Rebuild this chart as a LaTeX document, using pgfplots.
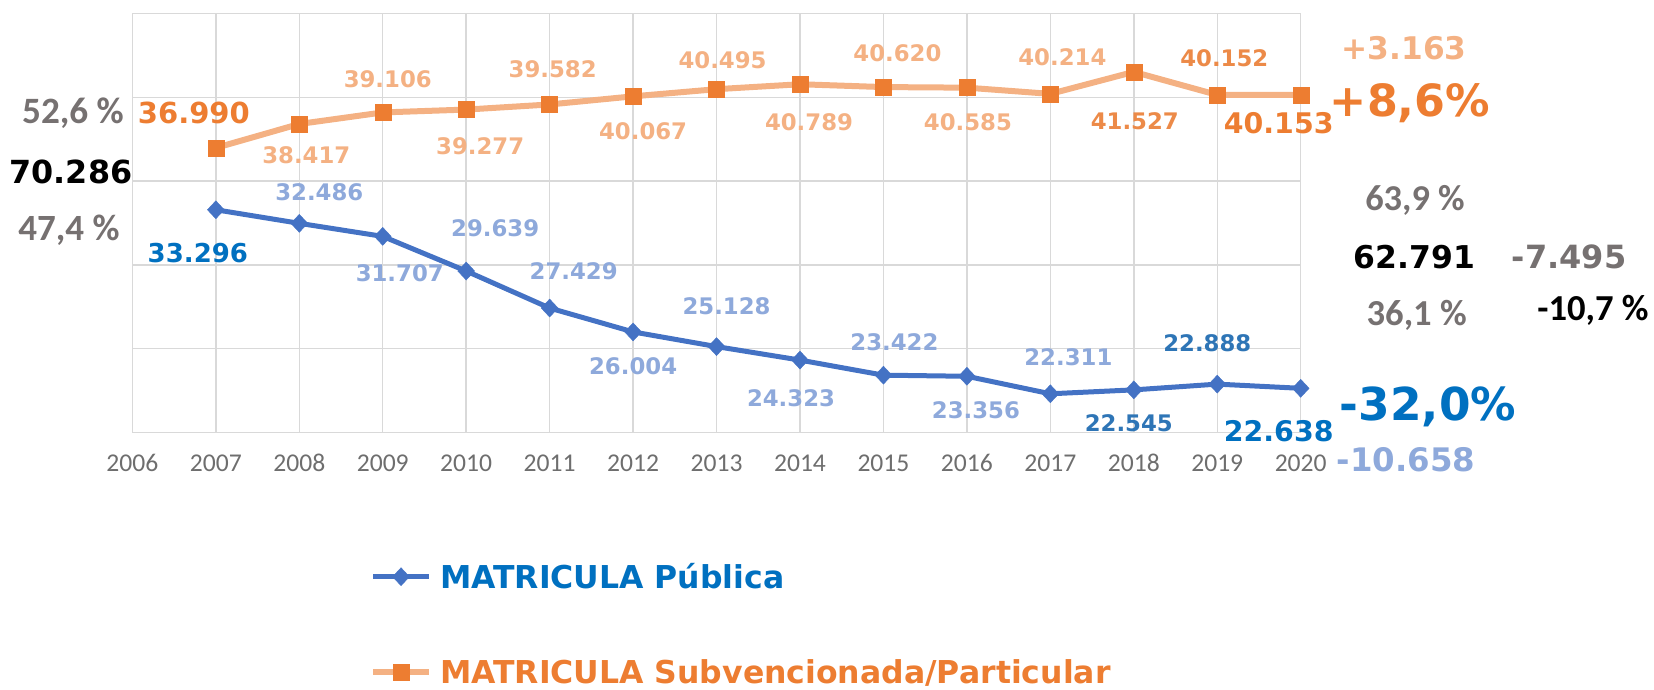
\documentclass[border=0pt]{standalone}
\usepackage{fontspec}
\setmainfont{DejaVu Sans}
\newfontfamily\calib{Carlito}
\usepackage{pgfplots}
\pgfplotsset{compat=1.18}

\definecolor{gridgray}{HTML}{D9D9D9}
\definecolor{tickgray}{HTML}{6E6E6E}
\definecolor{pgray}{HTML}{767171}
\definecolor{blueLine}{HTML}{4472C4}
\definecolor{blueD}{HTML}{0070C0}
\definecolor{blueM}{HTML}{2E75B6}
\definecolor{blueL}{HTML}{8EA9DB}
\definecolor{orangeD}{HTML}{ED7D31}
\definecolor{orangeM}{HTML}{EC8A48}
\definecolor{orangeL}{HTML}{F4B183}

\newcommand\fsz[1]{\fontsize{#1}{#1}\selectfont}
% data label: coord, dx, dy, text, colour, size
\newcommand\lab[6]{\node[inner sep=0pt, text=#5, font=\bfseries\fsz{#6}, xshift=#2pt, yshift=#3pt] at (axis cs:#1) {#4};}
% free text, offsets from the lower left corner of the plot area
\newcommand\ann[5]{\node[inner sep=0pt, text=#4, font=#5, xshift=#1pt, yshift=#2pt] at (rel axis cs:0,0) {#3};}

\begin{document}
\begin{tikzpicture}
\begin{axis}[
    name=main,
    scale only axis,
    width=584.15pt, height=209.4pt,
    xmin=2006, xmax=2020, ymin=20000, ymax=45000,
    xtick={2006,2007,2008,2009,2010,2011,2012,2013,2014,2015,2016,2017,2018,2019,2020},
    xticklabels={2006,2007,2008,2009,2010,2011,2012,2013,2014,2015,2016,2017,2018,2019,2020},
    ytick={20000,25000,30000,35000,40000,45000},
    yticklabels={},
    scaled y ticks=false,
    grid=major,
    grid style={gridgray, line width=0.75pt},
    axis line style={gridgray, line width=0.75pt},
    major tick length=0pt,
    xticklabel style={font=\calib\fsz{12.8pt}, text=tickgray, anchor=base, yshift=-19.5pt},
    clip=false,
    legend cell align=left,
    legend style={at={(rel axis cs:0.2034,-0.3169)}, anchor=north west,
        draw=none, fill=none, inner sep=0pt, outer sep=0pt, row sep=36pt,
        font=\bfseries\fsz{15.75pt},
        nodes={inner sep=0pt, text height=11.5pt, text depth=0pt},
        /tikz/every odd column/.append style={column sep=4pt}},
    legend image code/.code={\draw[mark repeat=2,mark phase=2,#1] plot coordinates {(0pt,0pt) (14pt,0pt) (28pt,0pt)};},
]
\addplot[color=blueLine, line width=2.5pt, mark=diamond*, mark size=4.5pt,
    mark options={xscale=1.25, fill=blueLine, draw=blueLine, line width=0.2pt}]
    coordinates {(2007,33296) (2008,32486) (2009,31707) (2010,29639) (2011,27429)
    (2012,26004) (2013,25128) (2014,24323) (2015,23422) (2016,23356) (2017,22311)
    (2018,22545) (2019,22888) (2020,22638)};
\addlegendentry{\textcolor{blueD}{MATRICULA Pública}}
\addplot[color=orangeL, line width=3pt, mark=square*, mark size=4pt,
    mark options={fill=orangeD, draw=orangeD, line width=0.2pt}]
    coordinates {(2007,36990) (2008,38417) (2009,39106) (2010,39277) (2011,39582)
    (2012,40067) (2013,40495) (2014,40789) (2015,40620) (2016,40585) (2017,40214)
    (2018,41527) (2019,40152) (2020,40153)};
\addlegendentry{\textcolor{orangeD}{MATRICULA Subvencionada/Particular}}

% labels of the private series
\lab{2007,36990}{-11}{17.5}{36.990}{orangeD}{14.5pt}
\lab{2008,38417}{3.5}{-15.5}{38.417}{orangeL}{11.4pt}
\lab{2009,39106}{2.5}{16.5}{39.106}{orangeL}{11.4pt}
\lab{2010,39277}{7}{-18.5}{39.277}{orangeL}{11.4pt}
\lab{2011,39582}{1.5}{17.75}{39.582}{orangeL}{11.4pt}
\lab{2012,40067}{5}{-17.5}{40.067}{orangeL}{11.4pt}
\lab{2013,40495}{3}{14.5}{40.495}{orangeL}{11.4pt}
\lab{2014,40789}{4.5}{-19}{40.789}{orangeL}{11.4pt}
\lab{2015,40620}{7}{17}{40.620}{orangeL}{11.4pt}
\lab{2016,40585}{0.5}{-17.5}{40.585}{orangeL}{11.4pt}
\lab{2017,40214}{6}{18.5}{40.214}{orangeL}{11.4pt}
\lab{2018,41527}{0.5}{-24.5}{41.527}{orangeM}{11.4pt}
\lab{2019,40152}{3.5}{18.5}{40.152}{orangeM}{11.4pt}
\lab{2020,40153}{-11}{-14}{40.153}{orangeD}{14.2pt}

% labels of the public series
\lab{2007,33296}{-9}{-21.5}{33.296}{blueD}{13pt}
\lab{2008,32486}{10}{15.5}{32.486}{blueL}{11.4pt}
\lab{2009,31707}{8.5}{-18.5}{31.707}{blueL}{11.4pt}
\lab{2010,29639}{14.5}{21.5}{29.639}{blueL}{11.4pt}
\lab{2011,27429}{12}{18.5}{27.429}{blueL}{11.4pt}
\lab{2012,26004}{0}{-17}{26.004}{blueL}{11.4pt}
\lab{2013,25128}{5}{20}{25.128}{blueL}{11.4pt}
\lab{2014,24323}{-4.5}{-19}{24.323}{blueL}{11.4pt}
\lab{2015,23422}{5.5}{16.25}{23.422}{blueL}{11.4pt}
\lab{2016,23356}{4.5}{-17}{23.356}{blueL}{11.4pt}
\lab{2017,22311}{9}{18.5}{22.311}{blueL}{11.4pt}
\lab{2018,22545}{-2.5}{-16.5}{22.545}{blueM}{11.4pt}
\lab{2019,22888}{-5}{20.5}{22.888}{blueM}{11.4pt}
\lab{2020,22638}{-11}{-21.5}{22.638}{blueD}{14.2pt}

% totals and shares, left
\ann{-29.7}{159.75}{52,6 \%}{pgray}{\calib\bfseries\fsz{18.6pt}}
\ann{-30.7}{130.25}{70.286}{black}{\bfseries\fsz{15.9pt}}
\ann{-31.7}{101.25}{47,4 \%}{pgray}{\calib\bfseries\fsz{18.5pt}}
% totals and changes, right
\ann{635.8}{192.1}{+3.163}{orangeL}{\bfseries\fsz{15.6pt}}
\ann{638.8}{164.75}{+8,6\%}{orangeD}{\bfseries\fsz{22.2pt}}
\ann{641.3}{116.25}{63,9 \%}{pgray}{\calib\bfseries\fsz{18.2pt}}
\ann{641.05}{87.9}{62.791}{black}{\bfseries\fsz{15.7pt}}
\ann{718.3}{87.9}{-7.495}{pgray}{\bfseries\fsz{16pt}}
\ann{642.15}{58.75}{36,1 \%}{pgray}{\calib\bfseries\fsz{18.3pt}}
\ann{730.3}{61.25}{-10,7 \%}{black}{\calib\bfseries\fsz{18.3pt}}
\ann{647.8}{12.9}{-32,0\%}{blueD}{\bfseries\fsz{22.7pt}}
\ann{636.8}{-13.75}{-10.658}{blueL}{\bfseries\fsz{16.2pt}}
\end{axis}
\pgfresetboundingbox
\path[use as bounding box] ([shift={(-66.2pt,-128.75pt)}]main.south west) rectangle ([shift={(760.8pt,216.25pt)}]main.south west);
\end{tikzpicture}
\end{document}
